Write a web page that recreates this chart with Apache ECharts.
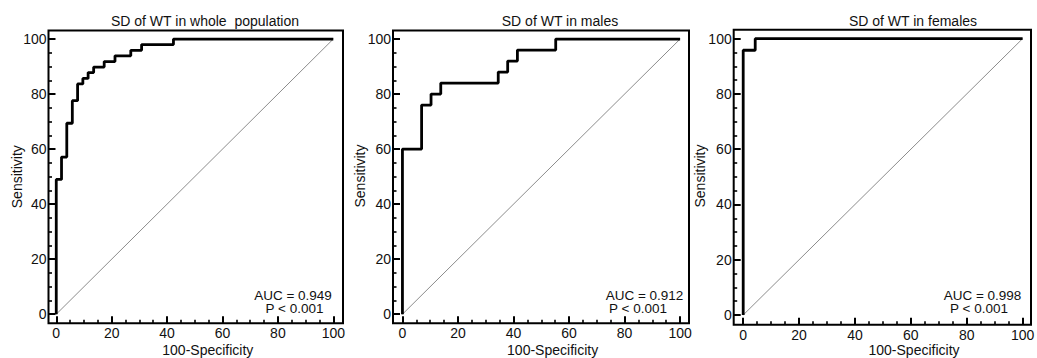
<!DOCTYPE html>
<html><head><meta charset="utf-8">
<script src="https://cdn.jsdelivr.net/npm/echarts@6/dist/echarts.min.js"></script>
<style>html,body{margin:0;padding:0;background:#fff}#c{width:1037px;height:358px}</style>
</head><body><div id="c"></div>
<script>
// ---- data ----
const panelTitles = ['SD of WT in whole  population', 'SD of WT in males', 'SD of WT in females'];
const aucLabels = ['AUC = 0.949', 'AUC = 0.912', 'AUC = 0.998'];
const pLabels = ['P < 0.001', 'P < 0.001', 'P < 0.001'];
const xAxisTitle = '100-Specificity';
const yAxisTitle = 'Sensitivity';
const majorTicks = [0, 20, 40, 60, 80, 100];
const minorTicks = [5, 10, 15, 25, 30, 35, 45, 50, 55, 65, 70, 75, 85, 90, 95];
const wholeFpr  = [0, 0, 1.9, 3.8, 5.8, 7.7, 9.6, 11.5, 13.5, 17.3, 21.2, 26.9, 30.8, 42.3, 100];
const wholeSens = [0, 49.0, 57.1, 69.4, 77.6, 83.7, 85.7, 87.8, 89.8, 91.8, 93.9, 95.9, 98.0, 100, 100];
const maleFpr  = [0, 0, 6.9, 10.3, 13.8, 34.5, 37.9, 41.4, 55.2, 100];
const maleSens = [0, 60, 76, 80, 84, 88, 92, 96, 100, 100];
const femaleFpr  = [0, 0, 4.3, 100];
const femaleSens = [0, 95.8, 100, 100];
const refFpr  = [0, 100];
const refSens = [0, 100];

// ---- layout ----
const layouts = [
  {left: 48.5, top: 30.5, width: 294.5, height: 292.8, xMin: -2.8, xMax: 103.5, yMin: -3.3, yMax: 103.1,
   titleX: 205, titleY: 21, aucX: 293, aucY: 295, pX: 294.5, pY: 308, yNameX: 17.4, yNameY: 176.7, xNameX: 207.8, xNameY: 349.8},
  {left: 393, top: 30.5, width: 296, height: 292.8, xMin: -3.4, xMax: 103.2, yMin: -3.3, yMax: 103.1,
   titleX: 560, titleY: 21, aucX: 644.5, aucY: 295.5, pX: 638, pY: 308.5, yNameX: 360, yNameY: 176, xNameX: 552.6, xNameY: 349.8},
  {left: 733.7, top: 29.8, width: 297.3, height: 294.9, xMin: -3.4, xMax: 103.0, yMin: -3.5, yMax: 103.2,
   titleX: 913, titleY: 21, aucX: 982.5, aucY: 295.5, pX: 979, pY: 308.5, yNameX: 699.5, yNameY: 176, xNameX: 914, xNameY: 349.9}
];
const curves = [[wholeFpr, wholeSens], [maleFpr, maleSens], [femaleFpr, femaleSens]];
const pair = (xs, ys) => xs.map((x, i) => [x, ys[i]]);

const TXT = '#111';
const FONT = 'Liberation Sans, Arial, sans-serif';
const txt = (x, y, text, size, rot) => ({type: 'text', x, y, rotation: rot || 0,
  style: {text, font: size + 'px ' + FONT, fill: TXT, textAlign: 'center', textVerticalAlign: 'middle'}});

const grid = [], xAxis = [], yAxis = [], series = [], graphic = [];
layouts.forEach((L, i) => {
  grid.push({left: L.left, top: L.top, width: L.width, height: L.height, show: true,
    borderColor: '#000', borderWidth: 2, backgroundColor: 'transparent', containLabel: false, outerBoundsMode: 'none'});
  const common = (min, max) => ({gridIndex: i, type: 'value', min, max, splitLine: {show: false},
    axisLine: {show: false, onZero: false}});
  xAxis.push(Object.assign(common(L.xMin, L.xMax), {position: 'bottom',
    axisTick: {inside: true, length: 7, customValues: majorTicks, lineStyle: {color: '#000', width: 2}},
    axisLabel: {customValues: majorTicks, fontSize: 14, color: TXT, fontFamily: FONT, margin: 3}}));
  xAxis.push(Object.assign(common(L.xMin, L.xMax), {position: 'bottom',
    axisTick: {inside: true, length: 3.5, customValues: minorTicks, lineStyle: {color: '#000', width: 1.6}},
    axisLabel: {show: false}}));
  yAxis.push(Object.assign(common(L.yMin, L.yMax), {position: 'left',
    axisTick: {inside: true, length: 7, customValues: majorTicks, lineStyle: {color: '#000', width: 2}},
    axisLabel: {customValues: majorTicks, fontSize: 14, color: TXT, fontFamily: FONT, margin: 2}}));
  yAxis.push(Object.assign(common(L.yMin, L.yMax), {position: 'left',
    axisTick: {inside: true, length: 3.5, customValues: minorTicks, lineStyle: {color: '#000', width: 1.6}},
    axisLabel: {show: false}}));
  series.push({type: 'line', xAxisIndex: 2 * i, yAxisIndex: 2 * i, data: pair(refFpr, refSens),
    symbol: 'none', lineStyle: {color: '#8c8c8c', width: 1}, z: 2, silent: true});
  series.push({type: 'line', xAxisIndex: 2 * i, yAxisIndex: 2 * i, data: pair(curves[i][0], curves[i][1]),
    step: 'end', symbol: 'none', lineStyle: {color: '#000', width: 2.8}, z: 3, silent: true});
  graphic.push(txt(L.titleX, L.titleY, panelTitles[i], 14));
  graphic.push(txt(L.aucX, L.aucY, aucLabels[i], 13.5));
  graphic.push(txt(L.pX, L.pY, pLabels[i], 13.5));
  graphic.push(txt(L.xNameX, L.xNameY, xAxisTitle, 14));
  graphic.push(txt(L.yNameX, L.yNameY, yAxisTitle, 14, Math.PI / 2));
});

const chart = echarts.init(document.getElementById('c'), null, {renderer: 'svg'});
chart.setOption({animation: false, backgroundColor: '#fff', grid, xAxis, yAxis, series, graphic});
</script>
</body></html>
